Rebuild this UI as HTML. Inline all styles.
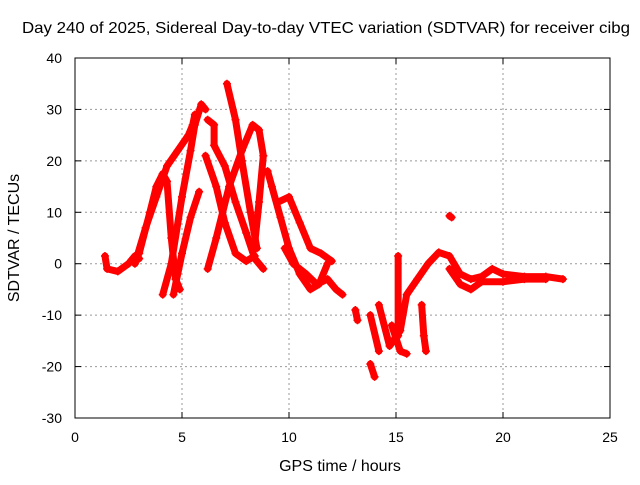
<!DOCTYPE html>
<html><head><meta charset="utf-8"><style>
body{margin:0;background:#fff}
svg text{font-family:"Liberation Sans",sans-serif;font-size:14px;fill:#000}
svg text.big{font-size:16px}
</style></head><body>
<svg id="chart" width="640" height="480">
<rect width="640" height="480" fill="#fff"/>
<text class="big" x="22" y="33" textLength="608" lengthAdjust="spacingAndGlyphs">Day 240 of 2025, Sidereal Day-to-day VTEC variation (SDTVAR) for receiver cibg</text>
<text class="big" x="340" y="471" text-anchor="middle">GPS time / hours</text>
<text class="big" transform="translate(19,238) rotate(-90)" text-anchor="middle">SDTVAR / TECUs</text>
<g id="grid"></g><g id="marks"></g>
<rect x="75" y="58" width="535" height="360" fill="none" stroke="#000"/>
<g id="ticks"></g>
</svg>
<script>
const xTicks=[0,5,10,15,20,25];
const yTicks=[-30,-20,-10,0,10,20,30,40];
const track1=[[1.4,1.5],[1.5,-1],[2,-1.5],[2.5,0],[2.8,1.5],[3,1]];
const track2=[[3,2],[3.5,10],[3.8,15],[4.1,17.5],[4.3,16],[4.5,5],[4.7,-3],[4.9,-5]];
const track3=[[4.1,-6],[4.5,0],[5,13],[5.4,22],[5.6,27],[5.9,31],[6.1,30]];
const track4=[[2.8,0],[3.3,7],[3.8,13],[4.3,19],[4.8,22],[5.3,25],[5.5,27],[5.6,29]];
const track5=[[4.6,-6],[5,2],[5.4,9],[5.8,14]];
const track6=[[6.2,28],[6.5,27],[6.5,23],[7,19],[7.5,12],[8,6],[8.4,1],[8.8,-1]];
const track7=[[7.1,35],[7.5,28],[7.8,20],[8.2,10],[8.5,3]];
const track8=[[6.2,-1],[6.6,5],[7.2,15],[7.8,22],[8.3,27],[8.6,26],[8.8,21],[8.6,12],[8.4,4]];
const track9=[[6.1,21],[6.6,15],[7,8],[7.5,2],[8,0.5],[8.4,1.5]];
const track10=[[9,18],[9.2,15],[9.6,9],[10,3],[10.5,-2],[11,-5],[11.4,-4],[11.8,0]];
const track11=[[9.5,12],[10,13],[10.5,8],[11,3],[11.5,2],[12,0.5]];
const track12=[[9.8,3],[10.2,0],[10.8,-2],[11.3,-4],[11.8,-3],[12.2,-5],[12.5,-6]];
const track13=[[13.8,-19.5],[14,-22]];
const track14=[[13.8,-10],[14.2,-17]];
const track15=[[13.1,-9],[13.2,-11]];
const track16=[[14.2,-8],[14.7,-16],[15.2,-13],[15.5,-6],[16,-3],[16.5,0],[17,2.2],[17.5,1.5],[18,-2],[18.5,-3],[19,-2.5],[19.5,-1],[20,-2],[21,-2.5],[22,-2.5],[22.8,-3]];
const track17=[[17.5,-1],[18,-4],[18.5,-5],[19,-3.5],[20,-3.5],[21,-3],[22,-3]];
const track18=[[14.8,-12],[15.2,-17],[15.5,-17.5]];
const track19=[[16.2,-8],[16.3,-14],[16.4,-17]];
const track20=[[17.5,9.3],[17.6,9]];
const track21=[[15.1,1.5],[15.1,-14]];
const tracks=[track1,track2,track3,track4,track5,track6,track7,track8,track9,track10,track11,track12,track13,track14,track15,track16,track17,track18,track19,track20,track21];
const X=v=>75+v*(535/25), Y=v=>418-(v+30)*(360/70);
const NS="http://www.w3.org/2000/svg";
const grid=document.getElementById('grid'),ticks=document.getElementById('ticks'),marks=document.getElementById('marks');
function mk(t,a,p){const e=document.createElementNS(NS,t);for(const k in a)e.setAttribute(k,a[k]);p.appendChild(e);return e;}
xTicks.forEach(v=>{const x=X(v);
 if(v>0&&v<25){const g=mk('line',{x1:x,x2:x,y1:58,y2:418,stroke:'#999','stroke-dasharray':'2,3'},grid);
 
 }
 mk('line',{x1:x,x2:x,y1:418,y2:412,stroke:'#000'},ticks);mk('line',{x1:x,x2:x,y1:58,y2:64,stroke:'#000'},ticks);
 const t=mk('text',{x:x,y:442,'text-anchor':'middle'},ticks);t.textContent=v;
 
 });
yTicks.forEach(v=>{const y=Y(v);
 if(v>-30&&v<40){const g=mk('line',{x1:75,x2:610,y1:y,y2:y,stroke:'#999','stroke-dasharray':'2,3'},grid);
 
 }
 mk('line',{x1:75,x2:81,y1:y,y2:y,stroke:'#000'},ticks);mk('line',{x1:610,x2:604,y1:y,y2:y,stroke:'#000'},ticks);
 const t=mk('text',{x:62,y:y+5,'text-anchor':'end'},ticks);t.textContent=v;
 
 });
tracks.forEach(tr=>{
 const pl=mk('polyline',{points:tr.map(p=>X(p[0])+','+Y(p[1])).join(' '),fill:'none',stroke:'#f00','stroke-width':7,'stroke-linejoin':'round','stroke-linecap':'round'},marks);
 
 
 tr.forEach(p=>{const x=X(p[0]),y=Y(p[1]);
  const m=mk('path',{d:`M${x-4},${y}H${x+4}M${x},${y-4}V${y+4}`,stroke:'#f00','stroke-width':1.5},marks);
  
  });
});
</script>
</body></html>
